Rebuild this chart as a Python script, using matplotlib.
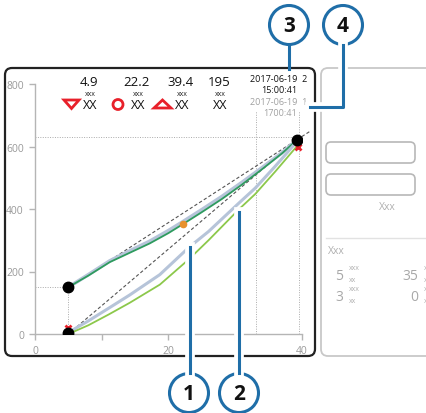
import matplotlib.pyplot as plt
import matplotlib.patheffects as pe
from matplotlib.patches import FancyBboxPatch, Circle, Polygon

plt.rcParams['font.family'] = ['Open Sans', 'DejaVu Sans']

# ---- data ----
upper_x = [5, 8, 11.2, 14.2, 17.2, 20, 22.2, 25, 28, 31, 34, 37, 39.2]
upper_green = [150, 187, 230, 260, 290, 323, 352, 390, 432, 478, 527, 578, 620]
upper_blue = [150, 190, 234, 266, 297, 331, 360, 398, 440, 485, 532, 580, 620]

lower_x = [5, 8, 11, 14.2, 18.7, 23.1, 26, 30.6, 33, 36, 39.2]
lower_blue = [5, 42, 82, 125, 190, 278, 328, 420, 467, 537, 615]
lower_green = [0, 28, 62, 100, 158, 240, 300, 400, 448, 520, 600]

chord_upper_x = [5, 41.3]
chord_upper_y = [150, 650]
chord_lower_x = [5, 39.2]
chord_lower_y = [0, 620]

black_pts_x = [5, 5, 39.2]
black_pts_y = [150, 2, 620]
red_x_x = [5, 39.4]
red_x_y = [18, 600]
orange_pt = (22.2, 352)

cursor_x = [33.1, 39.6]
level_y = 630

header_values = ["4.9", "22.2", "39.4", "195"]
header_units = ["xxx", "xxx", "xxx", "xxx"]
header_names = ["XX", "XX", "XX", "XX"]

stamp_now = ["2017-06-19  2", "15:00:41"]
stamp_prev = ["2017-06-19  1", "1700:41"]

panel_values = ["5", "35", "3", "0"]

callouts = ["1", "2", "3", "4"]

W, H = 427, 414
fig = plt.figure(figsize=(W / 100, H / 100), dpi=100)

# background overlay in pixel coords
bg = fig.add_axes([0, 0, 1, 1], zorder=0)
bg.set_xlim(0, W)
bg.set_ylim(H, 0)
bg.axis('off')

bg.add_patch(FancyBboxPatch((5, 69), 310, 288, boxstyle="round,pad=0,rounding_size=7",
                            fc='white', ec='#222222', lw=1.6))
bg.add_patch(FancyBboxPatch((321, 69), 130, 288, boxstyle="round,pad=0,rounding_size=7",
                            fc='white', ec='#c8c8c8', lw=1.3))
for y0 in (143, 175):
    bg.add_patch(FancyBboxPatch((326, y0), 89, 21, boxstyle="round,pad=0,rounding_size=5",
                                fc='white', ec='#b8b8b8', lw=1.2))
bg.text(387, 208, "Xxx", color='#b0b0b0', fontsize=7.5, ha='center', va='center')
bg.plot([326, 427], [239, 239], color='#e2e2e2', lw=1)
bg.text(328, 252, "Xxx", color='#b0b0b0', fontsize=7.5, ha='left', va='center')

panel_pos = [(343, 277), (418, 277), (343, 298), (418, 298)]
for v, (px, py) in zip(panel_values, panel_pos):
    bg.text(px, py, v, color='#a8a8a8', fontsize=10, ha='right', va='center')
    bg.text(px + 6, py - 8, "xxx", color='#b0b0b0', fontsize=5, ha='left', va='center')
    bg.text(px + 6, py + 4, "xx", color='#b0b0b0', fontsize=5, ha='left', va='center')

# header values
header_x = [89, 137, 181, 219]
for i, x in enumerate(header_x):
    bg.text(x, 83, header_values[i], fontsize=9.5, ha='center', va='center', color='#111111')
    bg.text(x + 1, 94.5, header_units[i], fontsize=5, ha='center', va='center', color='#222222')
    bg.text(x + 1.5, 106, header_names[i], fontsize=9, ha='center', va='center', color='#111111')

red = '#e8202a'
bg.add_patch(Polygon([(64, 101), (79, 101), (71.5, 109.5)], closed=True, fill=False, ec=red, lw=2))
bg.add_patch(Circle((118, 105.5), 5, fill=False, ec=red, lw=2))
bg.add_patch(Polygon([(154, 109), (171, 109), (162.5, 101)], closed=True, fill=False, ec=red, lw=2))

bg.text(307, 79, stamp_now[0], fontsize=6.5, ha='right', va='center', color='#111111')
bg.text(297, 90.5, stamp_now[1], fontsize=6.5, ha='right', va='center', color='#111111')
bg.text(307, 103, stamp_prev[0], fontsize=6.5, ha='right', va='center', color='#a0a0a0')
bg.text(297, 113.5, stamp_prev[1], fontsize=6.5, ha='right', va='center', color='#a0a0a0')

# ---- data axes ----
ax_l, ax_r, ax_b, ax_t = 35, 302, 335, 85
ax = fig.add_axes([ax_l / W, (H - ax_b) / H, (ax_r - ax_l) / W, (ax_b - ax_t) / H], zorder=1)
ax.patch.set_alpha(0)
ax.set_xlim(0, 40)
ax.set_ylim(0, 800)
for s in ('top', 'right'):
    ax.spines[s].set_visible(False)
for s in ('left', 'bottom'):
    ax.spines[s].set_color('#b5b5b5')
    ax.spines[s].set_linewidth(1)
ax.set_xticks([0, 10, 20, 30, 40])
ax.set_xticklabels(["0", "", "20", "", "40"])
ax.set_yticks([0, 200, 400, 600, 800])
ax.tick_params(colors='#b5b5b5', labelcolor='#9a9a9a', labelsize=7.5, length=4, width=1, pad=4)

guide = dict(color='#aaaaaa', lw=0.7, ls=(0, (1, 1.5)))
for cx in cursor_x:
    ax.plot([cx, cx], [0, 714], clip_on=False, **guide)
ax.plot([0, cursor_x[1]], [level_y, level_y], **guide)
ax.plot([0, 5], [150, 150], **guide)
ax.plot([5, 5], [0, 150], **guide)

ax.plot(chord_upper_x, chord_upper_y, color='#555555', lw=0.8, ls=(0, (3, 2)), clip_on=False)
ax.plot(chord_lower_x, chord_lower_y, color='#555555', lw=0.8, ls=(0, (3, 2)))

ax.plot(upper_x, upper_blue, color='#b6c4d9', lw=2.6, solid_capstyle='round')
ax.plot(upper_x, upper_green, color='#2e9b5e', lw=1.3)
ax.plot(lower_x, lower_blue, color='#b6c4d9', lw=2.2, solid_capstyle='round')
ax.plot(lower_x, lower_green, color='#8cc84b', lw=1.3)

ax.plot(red_x_x, red_x_y, ls='none', marker='x', color=red, ms=5, mew=2, zorder=4)
ax.plot(black_pts_x, black_pts_y, ls='none', marker='o', color='black', ms=7.5, zorder=5)
ax.plot(*orange_pt, marker='o', color='#e8912d', ms=4.5, zorder=5)

# ---- callouts overlay ----
fg = fig.add_axes([0, 0, 1, 1], zorder=3)
fg.set_xlim(0, W)
fg.set_ylim(H, 0)
fg.axis('off')
fg.patch.set_alpha(0)

blue = '#1f6ea8'
halo = [pe.Stroke(linewidth=7, foreground='white'), pe.Normal()]
fg.plot([190, 190], [248, 374], color=blue, lw=2.2, path_effects=halo)
fg.plot([239, 239], [213, 374], color=blue, lw=2.2, path_effects=halo)
fg.plot([289, 289], [46, 70], color=blue, lw=2.2)
fg.plot([343, 343, 310], [46, 108, 108], color=blue, lw=2.2, path_effects=halo)

circle_pos = [(189, 394), (239, 394), (289, 26), (343, 26)]
for lab, (cx, cy) in zip(callouts, circle_pos):
    fg.add_patch(Circle((cx, cy), 19.5, fc='white', ec=blue, lw=2.2))
    fg.text(cx, cy + 1, lab, fontsize=15, fontweight='bold', ha='center', va='center', color='#111111')

fig.savefig('out.png', dpi=100)
